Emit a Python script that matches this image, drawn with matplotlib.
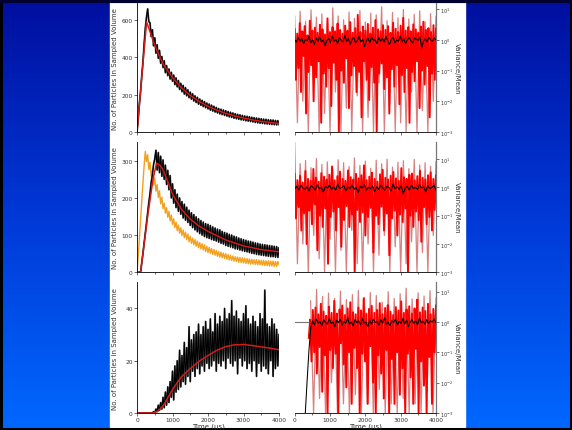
import numpy as np
import matplotlib.pyplot as plt
from matplotlib.patches import Rectangle
from matplotlib.colors import LinearSegmentedColormap
from matplotlib.ticker import MultipleLocator, NullLocator, LogLocator

W, H = 572, 431

# ---- left column: particle counts (time in microseconds) ----
fit1_t = [0, 270, 400, 500, 600, 750, 1000, 1250, 1500, 1750, 2000, 2250, 2500, 2750, 3000, 3250, 3500, 3750, 4000]
fit1_v = [0, 590, 520, 465, 420, 360, 292, 238, 196, 164, 138, 117, 100, 86, 75, 65, 57, 51, 46]
counts1 = [0, 70, 150, 215, 300, 375, 470, 555, 615, 660, 592, 585, 512, 548, 462, 505, 422, 468, 395, 438,
           368, 405, 345, 382, 318, 356, 302, 338, 284, 320, 272, 305, 254, 290, 242, 276, 228, 261, 216, 250,
           203, 238, 194, 226, 184, 214, 176, 205, 166, 194, 158, 186, 149, 177, 143, 170, 136, 163, 130, 155,
           124, 150, 117, 144, 112, 138, 107, 132, 102, 126, 97, 122, 93, 118, 89, 114, 85, 110, 81, 106,
           78, 102, 74, 98, 71, 95, 68, 92, 65, 89, 63, 86, 60, 84, 58, 82, 56, 79, 54, 77,
           51, 75, 49, 73, 47, 71, 46, 69, 44, 68, 43, 66, 41, 65, 40, 64, 39, 62, 38, 61, 40]

fit2_t = [0, 100, 300, 450, 550, 650, 750, 850, 1000, 1250, 1500, 1750, 2000, 2500, 3000, 3500, 4000]
fit2_v = [0, 0, 150, 250, 293, 288, 272, 248, 210, 170, 143, 124, 110, 87, 71, 61, 55]
counts2 = [0, 0, 0, 0, 25, 50, 78, 105, 132, 160, 188, 212, 242, 262, 290, 305, 328, 275, 322, 268,
           312, 258, 302, 250, 288, 236, 274, 222, 260, 200, 238, 186, 222, 174, 210, 164, 200, 156, 190, 146,
           183, 140, 175, 134, 167, 126, 160, 120, 155, 114, 149, 109, 144, 104, 139, 100, 135, 96, 131, 93,
           129, 91, 126, 88, 122, 86, 119, 84, 116, 81, 114, 78, 110, 76, 107, 72, 105, 70, 102, 68,
           100, 66, 97, 63, 95, 62, 92, 60, 90, 58, 88, 56, 86, 55, 84, 53, 83, 51, 81, 50,
           79, 48, 78, 47, 76, 46, 75, 45, 74, 44, 73, 43, 72, 42, 71, 42, 70, 41, 69, 40, 66]
orange2 = [0, 40, 90, 140, 190, 240, 285, 325, 298, 316, 276, 296, 258, 274, 234, 254, 218, 236, 201, 219,
           184, 202, 171, 186, 159, 174, 148, 164, 138, 154, 129, 144, 120, 135, 112, 127, 105, 120, 99, 114,
           93, 108, 88, 103, 82, 97, 78, 92, 74, 88, 70, 84, 66, 80, 63, 77, 60, 74, 56, 70,
           53, 67, 51, 64, 48, 61, 46, 59, 43, 56, 41, 54, 39, 52, 37, 50, 35, 48, 33, 46,
           32, 44, 30, 42, 29, 41, 27, 40, 26, 39, 25, 38, 24, 37, 23, 36, 22, 35, 22, 34,
           21, 34, 20, 33, 20, 32, 19, 32, 18, 31, 18, 31, 17, 30, 17, 30, 16, 29, 16, 29, 21]

fit3_t = [0, 450, 600, 750, 900, 1000, 1250, 1500, 1750, 2000, 2250, 2500, 2750, 3000, 3250, 3500, 3750, 4000]
fit3_v = [0, 0, 0.8, 3, 6.5, 9, 13.8, 17, 19.8, 22, 24, 25.4, 26.1, 26.2, 25.8, 25.3, 24.8, 24.2]
counts3 = [0, 0, 0, 0, 0, 0, 0, 0, 0, 0, 0, 0, 0, 0, 0.5, 0, 1.5, 0.5, 3, 1,
           4, 1.5, 6, 2, 8, 3, 10, 4, 12, 6, 16, 5, 18, 8, 20, 9, 24, 10, 22, 12,
           27, 11, 25, 14, 33, 12, 28, 16, 30, 14, 31, 17, 34, 15, 30, 18, 33, 16, 35, 19,
           32, 17, 36, 18, 31, 20, 38, 16, 34, 19, 37, 18, 35, 20, 40, 17, 36, 21, 38, 19,
           43, 18, 37, 20, 39, 15, 36, 21, 35, 18, 38, 20, 41, 17, 36, 19, 34, 16, 37, 20,
           35, 14, 33, 19, 38, 16, 36, 18, 47, 17, 34, 15, 33, 20, 36, 14, 34, 17, 32, 18, 30]

# ---- right column: variance / mean ----
ratio_red1 = [2.2, 0.05, 1.6, 0.12, 3.5, 0.02, 1.9, 0.3, 2.8, 0.004, 1.4, 0.09, 4.2, 0.15, 2.0, 0.01, 2.5, 0.06,
              1.7, 0.2, 3.1, 0.002, 2.2, 0.08, 1.5, 0.03, 5.0, 0.12, 1.8, 0.007, 2.6, 0.18, 1.9, 0.05, 3.4, 0.001,
              2.1, 0.1, 1.6, 0.04, 2.9, 0.25, 2.0, 0.006, 3.8, 0.07, 1.7, 0.14, 2.4, 0.02, 6.5, 0.09, 1.8, 0.003,
              2.7, 0.2, 2.0, 0.05, 3.3, 0.011, 1.6, 0.13, 2.5, 0.04, 4.4, 0.001, 2.2, 0.08, 1.9, 0.17, 3.0, 0.025,
              2.1, 0.06, 2.8, 0.004, 1.7, 0.11, 3.6, 0.03, 2.3, 0.15, 1.8, 0.008, 2.9, 0.07, 5.2, 0.02, 2.0, 0.12,
              2.6, 0.002, 1.9, 0.09, 3.2, 0.045, 2.2, 0.2, 1.7, 0.006, 2.7, 0.1, 3.9, 0.035, 2.1, 0.14, 2.4, 0.003,
              1.8, 0.08, 3.0, 0.05, 2.3]
ratio_pink1 = [6.0, 0.002, 8.5, 0.01, 4.0, 0.001, 9.5, 0.03, 5.5, 0.001, 7.0, 0.004, 3.5, 0.001, 11.0, 0.02,
               6.0, 0.001, 4.5, 0.006, 8.0, 0.001, 5.0, 0.015, 9.0, 0.001, 3.8, 0.003, 7.5, 0.001, 6.5, 0.04,
               12.0, 0.001, 4.2, 0.008, 7.8, 0.001, 5.2, 0.002, 9.8, 0.001, 4.8, 0.02, 6.8, 0.001, 8.8, 0.005,
               3.9, 0.001, 7.2, 0.01, 5.8]
ratio_avg1 = [1.0, 0.85, 1.2, 0.9, 1.1, 0.75, 1.05, 0.95, 1.3, 0.8, 1.0, 0.7, 1.15, 0.9, 1.25, 0.85, 1.0, 0.65,
              0.95, 1.1, 0.8, 1.35, 0.9, 1.05, 0.75, 1.2, 0.95, 0.85, 1.4, 0.9, 1.1, 0.7, 1.0, 1.2, 0.8, 0.95,
              1.3, 0.85, 1.05, 0.6, 0.9, 1.15, 0.8, 1.25, 0.95, 1.0, 0.75, 1.2, 0.9, 1.1, 0.85, 1.3, 0.95, 0.7,
              1.05, 1.2, 0.8, 1.0, 0.9, 1.35, 0.85, 1.1, 0.75, 1.0, 1.2, 0.9, 0.8, 1.15, 1.05, 0.95, 1.25, 0.55,
              0.9, 1.1, 0.85, 1.2, 1.0, 0.9, 1.15, 1.0]

ratio_red2 = [3.0, 0.08, 1.8, 0.2, 2.6, 0.03, 1.5, 0.12, 3.8, 0.01, 2.0, 0.15, 1.7, 0.05, 4.5, 0.25, 2.2, 0.006,
              1.6, 0.1, 3.2, 0.04, 2.4, 0.18, 1.9, 0.002, 2.8, 0.09, 5.5, 0.14, 1.8, 0.03, 2.5, 0.2, 3.6, 0.008,
              2.0, 0.07, 1.7, 0.22, 4.0, 0.04, 2.3, 0.11, 1.9, 0.001, 3.0, 0.16, 2.1, 0.06, 2.7, 0.13, 6.0, 0.02,
              1.8, 0.09, 2.4, 0.19, 3.3, 0.005, 2.0, 0.1, 1.6, 0.05, 2.9, 0.21, 4.2, 0.03, 2.2, 0.12, 1.9, 0.004,
              2.6, 0.08, 3.5, 0.15, 2.1, 0.02, 1.7, 0.11, 4.8, 0.06, 2.3, 0.18, 2.0, 0.001, 2.8, 0.1, 3.1, 0.04,
              1.8, 0.14, 2.5, 0.07, 3.9, 0.012, 2.2, 0.2, 1.9, 0.05, 2.7, 0.09, 3.4, 0.03, 2.0, 0.16, 2.6]
ratio_pink2 = [40.0, 0.002, 7.0, 0.01, 9.0, 0.001, 5.0, 0.02, 10.5, 0.003, 6.5, 0.001, 8.0, 0.015, 4.5, 0.001,
               9.5, 0.006, 7.5, 0.001, 5.5, 0.03, 11.0, 0.002, 6.0, 0.001, 8.5, 0.01, 4.8, 0.001, 9.2, 0.004,
               6.8, 0.02, 10.0, 0.001, 5.2, 0.008, 7.8, 0.001, 8.8, 0.002, 4.6, 0.012, 9.8, 0.001, 6.2, 0.005,
               7.4, 0.001, 5.6, 0.02, 8.2]
ratio_avg2 = [0.9, 1.1, 0.8, 1.2, 0.95, 0.85, 1.05, 0.75, 1.15, 1.0, 0.8, 1.25, 0.9, 1.0, 0.7, 1.1, 0.95, 1.2,
              0.85, 1.05, 0.8, 1.3, 0.9, 1.0, 1.15, 0.75, 1.05, 0.9, 1.2, 0.85, 1.0, 0.65, 1.1, 0.95, 1.25, 0.8,
              1.0, 0.9, 1.15, 0.7, 1.05, 0.85, 1.2, 0.95, 0.8, 1.1, 1.0, 0.75, 1.3, 0.9, 1.05, 0.85, 1.15, 0.6,
              0.95, 1.1, 0.8, 1.2, 0.9, 1.0, 0.85, 1.25, 0.95, 1.05, 0.7, 1.15, 0.9, 1.0, 1.2, 0.8]

ratio_red3 = [0.3, 1.2, 0.05, 2.5, 0.1, 3.0, 0.02, 1.8, 0.15, 4.0, 0.005, 2.2, 0.08, 1.6, 0.001, 3.2, 0.12, 2.0,
              0.03, 5.0, 0.09, 1.9, 0.001, 2.6, 0.2, 3.5, 0.04, 1.7, 0.007, 2.8, 0.1, 4.5, 0.002, 2.1, 0.14, 1.8,
              0.03, 3.0, 0.001, 2.4, 0.09, 6.0, 0.05, 1.9, 0.002, 2.7, 0.16, 3.4, 0.01, 2.0, 0.001, 2.5, 0.08, 4.2,
              0.02, 1.8, 0.003, 2.9, 0.12, 3.6, 0.001, 2.2, 0.06, 1.7, 0.002, 3.1, 0.1, 2.4, 0.004, 4.8, 0.03, 2.0,
              0.001, 2.6, 0.09, 3.3, 0.015, 1.9, 0.002, 2.8, 0.13, 5.5, 0.001, 2.1, 0.05, 3.0, 0.008, 2.3, 0.001,
              4.0, 0.07, 1.8, 0.002, 2.7, 0.1, 3.5]
ratio_pink3 = [5.0, 0.001, 12.0, 0.003, 7.0, 0.001, 9.0, 0.01, 6.0, 0.001, 10.5, 0.002, 5.5, 0.001, 8.0, 0.004,
               11.0, 0.001, 6.5, 0.002, 9.5, 0.001, 7.5, 0.006, 4.5, 0.001, 10.0, 0.002, 6.0, 0.001, 8.5, 0.003,
               13.0, 0.001, 5.8, 0.002, 9.2, 0.001, 7.2, 0.005, 10.8, 0.001, 6.2]
ratio_avg3 = [0.001, 0.012, 0.12, 0.65, 1.1, 0.8, 1.25, 0.9, 1.05, 0.75, 1.2, 0.95, 0.85, 1.3, 0.9, 1.0, 0.7, 1.15,
              0.95, 1.25, 0.8, 1.05, 0.9, 1.35, 0.85, 1.0, 0.75, 1.2, 0.95, 1.1, 0.8, 1.3, 0.9, 1.0, 0.7, 1.15,
              0.85, 1.25, 0.95, 1.05, 0.8, 1.2, 0.9, 1.4, 0.85, 1.0, 0.75, 1.1, 0.95, 1.25, 0.8, 1.05, 0.9, 1.3,
              0.85, 1.15, 0.7, 1.0, 1.2, 0.9, 1.1, 0.8, 1.35, 0.95, 1.05, 0.85, 1.2, 0.9, 1.1, 1.0, 1.25, 0.95]

# start / end times of the traces
t_start_red3, t_start_pink3, t_start_avg3 = 400, 450, 300
t_end = 4000

TXT = '#333333'
FS = 4.2

fig = plt.figure(figsize=(W / 100, H / 100), dpi=100)

# slide background
bg = fig.add_axes([0, 0, 1, 1])
bg.set_axis_off()
bg.set_xlim(0, W)
bg.set_ylim(H, 0)
cmap = LinearSegmentedColormap.from_list('slide', ['#000f9e', '#0038d6', '#0068ff'])
bg.imshow(np.linspace(0, 1, 256).reshape(-1, 1), extent=[0, W, H, 0], aspect='auto', cmap=cmap)
bg.add_patch(Rectangle((110, 4), 355, 424, color='white'))
bg.plot([0, W], [2, 2], color='#000030', lw=3)
bg.add_patch(Rectangle((1, 1), W - 2, H - 2, fill=False, ec='black', lw=2.2))


def px_axes(x0, y_top, x1, y_bot):
    return fig.add_axes([x0 / W, 1 - y_bot / H, (x1 - x0) / W, (y_bot - y_top) / H])


def style_x(ax, labels):
    ax.set_xlim(0, 4000)
    ax.xaxis.set_major_locator(MultipleLocator(1000))
    ax.xaxis.set_minor_locator(MultipleLocator(500))
    ax.tick_params(axis='x', which='both', direction='out', length=2, width=0.5,
                   labelsize=FS, colors=TXT, pad=1, labelbottom=labels)
    ax.tick_params(axis='x', which='minor', length=1.3)
    if labels:
        ax.set_xlabel('Time (µs)', fontsize=5, color=TXT, labelpad=0.5)


rows = [(4.3, 133.0), (143.1, 273.3), (283.3, 414.0)]

# left column
left_specs = [
    (counts1, None, fit1_t, fit1_v, 690, 200),
    (counts2, orange2, fit2_t, fit2_v, 350, 100),
    (counts3, None, fit3_t, fit3_v, 50, 20),
]
for i, (cnt, orng, ft, fv, ytop, ystep) in enumerate(left_specs):
    ax = px_axes(137, rows[i][0], 279, rows[i][1])
    ax.patch.set_alpha(0)
    if orng is not None:
        ax.plot(np.linspace(0, t_end, len(orng)), orng, color='#f2a11f', lw=1.0)
    ax.plot(np.linspace(0, t_end, len(cnt)), cnt, color='#555555', lw=1.3)
    ax.plot(np.linspace(0, t_end, len(cnt)), cnt, color='black', lw=0.8)
    ax.plot(ft, fv, color='#d41a1a', lw=1.1)
    ax.set_ylim(0, ytop)
    ax.yaxis.set_major_locator(MultipleLocator(ystep))
    ax.yaxis.set_minor_locator(NullLocator())
    ax.tick_params(axis='y', direction='out', length=2, width=0.5, labelsize=FS, colors=TXT, pad=1)
    for s in ['top', 'right']:
        ax.spines[s].set_visible(False)
    for s in ['left', 'bottom']:
        ax.spines[s].set_linewidth(0.6)
    style_x(ax, i == 2)
    ax.set_ylabel('No. of Particles in Sampled Volume', fontsize=5, color=TXT)
    ax.yaxis.set_label_coords(-0.135, 0.5)

# right column
right_specs = [
    (ratio_red1, 0, ratio_pink1, 0, ratio_avg1, 0, 15.5),
    (ratio_red2, 0, ratio_pink2, 0, ratio_avg2, 0, 40),
    (ratio_red3, t_start_red3, ratio_pink3, t_start_pink3, ratio_avg3, t_start_avg3, 20.4),
]
for i, (red, tr, pink, tp, avg, ta, ytop) in enumerate(right_specs):
    ax = px_axes(294.7, rows[i][0], 436, rows[i][1])
    ax.patch.set_alpha(0)
    ax.set_yscale('log')
    ax.axhline(1, color='#777777', lw=0.8)
    ax.plot(np.linspace(tp, t_end, len(pink)), pink, color='#d98080', lw=0.9)
    ax.plot(np.linspace(tr, t_end, len(red)), red, color='#ff0000', lw=1.4)
    ax.plot(np.linspace(ta, t_end, len(avg)), avg, color='black', lw=0.75)
    ax.set_ylim(1e-3, ytop)
    ax.yaxis.set_major_locator(LogLocator(base=10, numticks=10))
    ax.yaxis.set_minor_locator(NullLocator())
    ax.yaxis.tick_right()
    ax.tick_params(axis='y', direction='out', length=2, width=0.5, labelsize=FS - 0.6, colors=TXT, pad=1)
    for s in ['top', 'left']:
        ax.spines[s].set_visible(False)
    ax.spines['right'].set_color('#777777')
    ax.spines['right'].set_linewidth(0.9)
    ax.spines['bottom'].set_linewidth(0.6)
    style_x(ax, i == 2)
    ax.yaxis.set_label_position('right')
    ax.set_ylabel('Variance/Mean', fontsize=5, color=TXT, rotation=270, va='center')
    ax.yaxis.set_label_coords(1.145, 0.5)

fig.savefig('out.png', dpi=100)
